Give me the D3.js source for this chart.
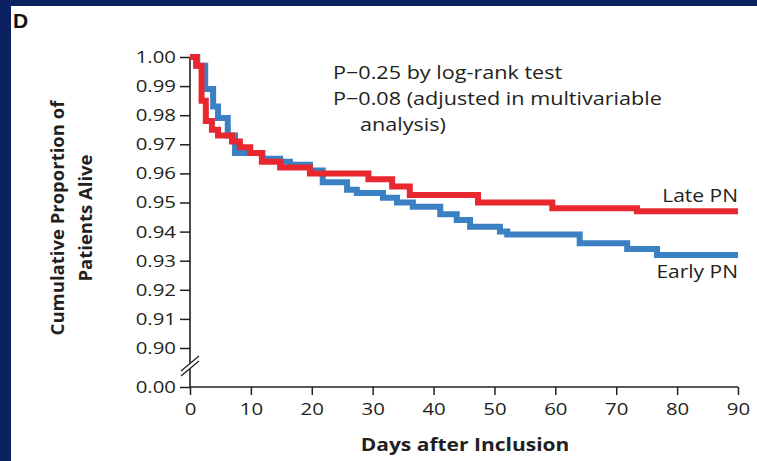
<!DOCTYPE html>
<html>
<head>
<meta charset="utf-8">
<script src="https://cdn.jsdelivr.net/npm/d3@7"></script>
<style>
  html, body { margin: 0; padding: 0; background: #0b2161; }
  svg { display: block; }
</style>
</head>
<body>
<svg id="chart" width="757" height="461"></svg>
<script>
// values: [day, proportion alive]
const lateDays =  [0, 1.0, 1.9, 2.6, 3.6, 4.6, 6.9, 8.2, 9.9, 11.8, 14.8, 19.7, 29.3, 33.2, 36.1, 47.3, 59.5, 73.4, 90];
const lateVals =  [1.000, 0.997, 0.985, 0.978, 0.975, 0.973, 0.971, 0.969, 0.967, 0.964, 0.962, 0.960, 0.958, 0.9555, 0.9526, 0.950, 0.948, 0.947, 0.947];
const earlyDays = [0, 1.2, 2.5, 3.8, 4.6, 6.2, 7.4, 11.9, 14.8, 16.4, 19.7, 21.8, 25.8, 27.4, 31.7, 34.0, 36.6, 41.1, 43.8, 46.0, 50.9, 52.1, 64.0, 71.8, 76.7, 90];
const earlyVals = [1.000, 0.997, 0.989, 0.983, 0.979, 0.973, 0.967, 0.965, 0.964, 0.963, 0.961, 0.957, 0.9544, 0.9533, 0.9516, 0.950, 0.9485, 0.946, 0.944, 0.9417, 0.940, 0.939, 0.936, 0.934, 0.932, 0.932];
const yTicks = [0, 0.90, 0.91, 0.92, 0.93, 0.94, 0.95, 0.96, 0.97, 0.98, 0.99, 1.00];
const xTicks = [0, 10, 20, 30, 40, 50, 60, 70, 80, 90];
const notes = ["P\u22120.25 by log-rank test", "P\u22120.08 (adjusted in multivariable", "analysis)"];

const svg = d3.select("#chart");
const ink = "#231f20";
const font = "'Open Sans', sans-serif";
const sx = 1.2; // the type in the original is drawn a bit wide

// white panel inside the navy frame
svg.append("rect").attr("x", 11).attr("y", 6).attr("width", 746).attr("height", 455).attr("fill", "#fff");
svg.append("text").attr("x", 13).attr("y", 28).text("D")
  .attr("font-family", "'Liberation Sans', Arial, sans-serif").attr("font-weight", "bold")
  .attr("font-size", 21).attr("fill", "#111");

// text stretched horizontally
function label(px, py, str, anchor, size, weight) {
  return svg.append("text")
    .attr("transform", `translate(${px},${py}) scale(${sx},1)`)
    .attr("text-anchor", anchor || "start")
    .attr("font-family", font).attr("font-size", size || 17.5)
    .attr("font-weight", weight || "normal").attr("fill", ink)
    .text(str);
}

const x = d3.scaleLinear().domain([0, 90]).range([190, 738]);
// broken axis: 0 sits just below 0.90
const y = d3.scaleLinear().domain([0, 0.90, 1.00]).range([387, 348, 57]);

const yAxis = d3.axisLeft(y).tickValues(yTicks).tickFormat(d3.format(".2f")).tickSize(10).tickPadding(4);
const xAxis = d3.axisBottom(x).tickValues(xTicks).tickSize(8).tickPadding(5);

const gy = svg.append("g").attr("transform", "translate(190,0)").call(yAxis);
const gx = svg.append("g").attr("transform", "translate(0,387)").call(xAxis);

[gy, gx].forEach(g => {
  g.select(".domain").remove();
  g.selectAll("line").attr("stroke", ink).attr("stroke-width", 1.5);
  g.selectAll("text").attr("fill", ink).attr("font-family", font).attr("font-size", 17)
    .attr("transform", `scale(${sx},1)`);
});
gy.selectAll("text").attr("x", -14 / sx);
gx.selectAll("text").attr("dy", "0.9em");

// axis lines
svg.append("line").attr("x1", 190).attr("x2", 190).attr("y1", y(1.00)).attr("y2", y(0))
  .attr("stroke", ink).attr("stroke-width", 1.6);
svg.append("line").attr("x1", 190).attr("x2", x(90)).attr("y1", y(0)).attr("y2", y(0))
  .attr("stroke", ink).attr("stroke-width", 1.6);

// break marks
svg.append("path").attr("d", "M181,371 L199,356 L199,361 L181,376 Z").attr("fill", "#fff");
svg.append("line").attr("x1", 181).attr("y1", 371).attr("x2", 199).attr("y2", 356).attr("stroke", ink).attr("stroke-width", 1.2);
svg.append("line").attr("x1", 181).attr("y1", 376).attr("x2", 199).attr("y2", 361).attr("stroke", ink).attr("stroke-width", 1.2);

// curves
const line = d3.line().x(d => x(d[0])).y(d => y(d[1])).curve(d3.curveStepAfter);
const early = earlyDays.map((d, i) => [d, earlyVals[i]]);
const late = lateDays.map((d, i) => [d, lateVals[i]]);

svg.append("path").datum(early).attr("d", line).attr("fill", "none")
  .attr("stroke", "#3a80c3").attr("stroke-width", 6);
svg.append("path").datum(late).attr("d", line).attr("fill", "none")
  .attr("stroke", "#e8272f").attr("stroke-width", 6);

// series labels
label(738, 202, "Late PN", "end");
label(738, 278, "Early PN", "end");

// p-value notes
notes.forEach((t, i) => label(i === 2 ? 360 : 333, 79 + i * 26, t, "start", 18));

// axis titles
label(465, 451, "Days after Inclusion", "middle", 17.5, "bold");
const yt = svg.append("text").attr("transform", "translate(0,218) rotate(-90)")
  .attr("text-anchor", "middle").attr("font-family", font).attr("font-weight", "bold")
  .attr("font-size", 18.5).attr("fill", ink);
yt.append("tspan").attr("x", 0).attr("y", 64).text("Cumulative Proportion of");
yt.append("tspan").attr("x", 0).attr("y", 92).text("Patients Alive");
</script>
</body>
</html>
